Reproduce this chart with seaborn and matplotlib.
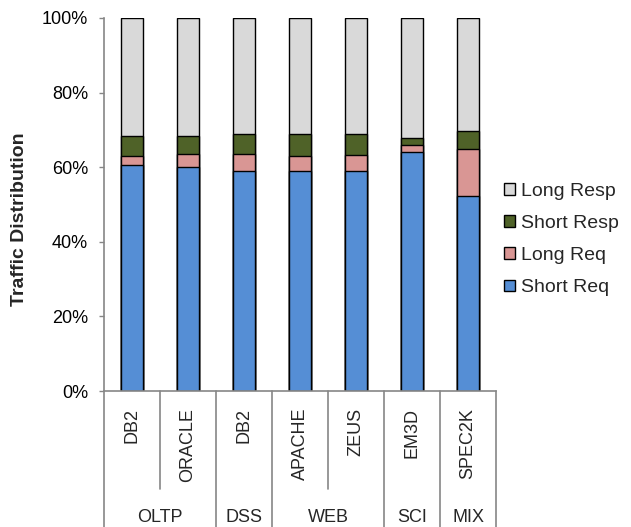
import matplotlib
matplotlib.use("Agg")
import matplotlib.pyplot as plt
import matplotlib.transforms as mtransforms
from matplotlib.patches import Patch
import numpy as np
import pandas as pd
import seaborn as sns

# Workload groups and benchmarks
groups = ["OLTP", "DSS", "WEB", "SCI", "MIX"]
group_sizes = [2, 1, 2, 1, 1]
benchmarks = ["DB2", "ORACLE", "DB2", "APACHE", "ZEUS", "EM3D", "SPEC2K"]

# Traffic breakdown per benchmark (percent)
short_req = [60.6, 60.0, 58.9, 59.1, 58.9, 64.0, 52.4]
long_req = [2.3, 3.6, 4.7, 3.8, 4.3, 1.9, 12.6]
short_resp = [5.4, 4.8, 5.3, 5.9, 5.6, 1.9, 4.6]
long_resp = [31.7, 31.6, 31.1, 31.2, 31.2, 32.2, 30.4]

series_names = ["Short Req", "Long Req", "Short Resp", "Long Resp"]
series_colors = ["#558ED5", "#D99694", "#4F6228", "#D9D9D9"]

sns.set_theme(style="white")
plt.rcParams["font.family"] = ["Liberation Sans", "DejaVu Sans"]

keys = [f"{i}:{b}" for i, b in enumerate(benchmarks)]
df = pd.DataFrame({
    "key": keys,
    "Short Req": short_req,
    "Long Req": long_req,
    "Short Resp": short_resp,
    "Long Resp": long_resp,
})
cum = df[series_names].cumsum(axis=1)

fig = plt.figure(figsize=(6.31, 5.27), dpi=100)
ax = fig.add_axes([104 / 631, 1 - 391 / 527, 392 / 631, 373 / 527])

# Stacked bars: draw cumulative totals from the top layer down
for name, color in zip(reversed(series_names), reversed(series_colors)):
    sns.barplot(data=cum.assign(key=df["key"]), x="key", y=name, order=keys,
                color=color, width=0.4, edgecolor="black", linewidth=1.0,
                saturation=1, ax=ax, zorder=2)

ax.set_xlim(-0.5, len(keys) - 0.5)
ax.set_ylim(0, 100)
ax.set_yticks(np.arange(0, 101, 20))
ax.set_yticklabels([f"{v}%" for v in range(0, 101, 20)], fontsize=13)
ax.set_xticks([])
ax.set_xlabel("")
ax.set_ylabel("")
ax.tick_params(axis="y", which="both", left=True, length=3.5, width=1,
               color="#868686", pad=8, labelcolor="black")

for s in ["top", "right"]:
    ax.spines[s].set_visible(False)
for s in ["left", "bottom"]:
    ax.spines[s].set_color("#868686")
    ax.spines[s].set_linewidth(1.2)

# Benchmark labels and separator lines below the axis
trans = mtransforms.blended_transform_factory(ax.transData, ax.transAxes)
for i, b in enumerate(benchmarks):
    ax.text(i, -0.045, b, rotation=90, ha="center", va="top",
            fontsize=13, transform=trans)

short_y = -(489 - 391) / 373
long_y = -(527 - 391) / 373
boundaries = np.cumsum([0] + group_sizes)
for i in range(len(keys) + 1):
    x = i - 0.5
    y_end = long_y if i in boundaries else short_y
    ax.plot([x, x], [0, y_end], color="#868686", lw=1.2,
            transform=trans, clip_on=False)

for g, start, size in zip(groups, boundaries[:-1], group_sizes):
    center = start + size / 2 - 0.5
    ax.text(center, -(517 - 391) / 373, g, ha="center", va="center",
            fontsize=13, transform=trans)

fig.text(20 / 631, 1 - 219 / 527, "Traffic Distribution", rotation=90,
         ha="center", va="center", fontsize=14, fontweight="bold")

handles = [Patch(facecolor=c, edgecolor="black", linewidth=1.0, label=n)
           for n, c in zip(series_names, series_colors)][::-1]
fig.legend(handles=handles, loc="center left",
           bbox_to_anchor=(504 / 631, 1 - 239.5 / 527), frameon=False,
           fontsize=14, handlelength=0.55, handleheight=0.55,
           handletextpad=0.3, labelspacing=0.78, borderpad=0,
           borderaxespad=0)

fig.savefig("out.png", dpi=100)
